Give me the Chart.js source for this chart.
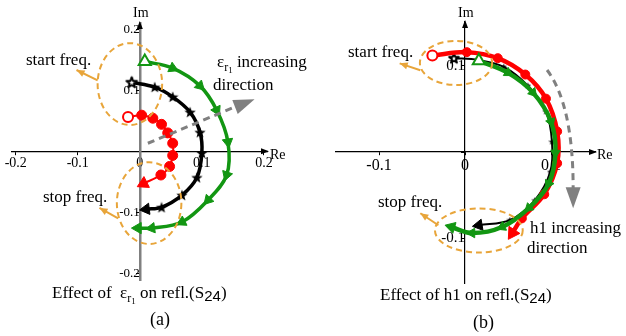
<!DOCTYPE html>
<html>
<head>
<meta charset="utf-8">
<script src="https://cdn.jsdelivr.net/npm/chart.js@4.4.1/dist/chart.umd.min.js"></script>
<style>
  body { margin: 0; background: #fff; }
  #wrap { position: relative; width: 626px; height: 336px; overflow: hidden; font-family: "Liberation Serif", serif; color: #000; }
  canvas { position: absolute; top: 0; }
  .t { position: absolute; white-space: nowrap; line-height: 1; font-size: 17px; }
  .ax { font-size: 14px; }
  .r { font-size: 12px; position: relative; top: 4px; }
  .one { font-size: 9px; position: relative; top: 2px; }
  .n { font-family: "Liberation Sans", sans-serif; font-size: 15px; position: relative; top: 3px; }
</style>
</head>
<body>
<div id="wrap">
  <canvas id="ca" width="313" height="336" style="left:0"></canvas>
  <canvas id="cb" width="313" height="336" style="left:313px"></canvas>

  <div class="t ax" style="left:133px;top:6px">Im</div>
  <div class="t ax" style="left:270px;top:148px">Re</div>
  <div class="t" style="left:26px;top:51px">start freq.</div>
  <div class="t" style="left:217px;top:53px">ε<span class="r">r<span class="one">1</span></span> increasing</div>
  <div class="t" style="left:213px;top:76px">direction</div>
  <div class="t" style="left:43px;top:188px">stop freq.</div>
  <div class="t" style="left:52px;top:284px">Effect of&nbsp; ε<span class="r">r<span class="one">1</span></span> on refl.(S<span class="n">24</span>)</div>
  <div class="t" style="left:150px;top:310px;font-size:18px">(a)</div>

  <div class="t ax" style="left:458px;top:6px">Im</div>
  <div class="t ax" style="left:597px;top:148px">Re</div>
  <div class="t" style="left:348px;top:43px">start freq.</div>
  <div class="t" style="left:378px;top:193px">stop freq.</div>
  <div class="t" style="left:530px;top:219px">h1 increasing</div>
  <div class="t" style="left:527px;top:239px">direction</div>
  <div class="t" style="left:380px;top:286px">Effect of h1 on refl.(S<span class="n">24</span>)</div>
  <div class="t" style="left:473px;top:313px;font-size:18px">(b)</div>
</div>
<script>
// ---- panel (a): effect of eps_r1 ----
const aTicks = [-0.2, -0.1, 0, 0.1, 0.2];

const aRedRe   = [-0.019, 0.003, 0.021, 0.035, 0.045, 0.053, 0.053, 0.048, 0.034, 0.006];
const aRedIm   = [ 0.056, 0.059, 0.054, 0.044, 0.030, 0.013, -0.007, -0.025, -0.039, -0.053];

const aBlackRe = [-0.013, 0.024, 0.053, 0.081, 0.097, 0.100, 0.092, 0.068, 0.035, 0.010];
const aBlackIm = [ 0.113, 0.105, 0.089, 0.064, 0.031, -0.003, -0.043, -0.072, -0.092, -0.095];

const aGreenRe = [ 0.008, 0.053, 0.097, 0.124, 0.142, 0.140, 0.110, 0.068, 0.019, -0.003];
const aGreenIm = [ 0.147, 0.136, 0.107, 0.067, 0.015, -0.039, -0.080, -0.116, -0.126, -0.126];

// ---- panel (b): effect of h1 ----
const bTicks = [-0.1, 0, 0.1];

const bRedRe   = [-0.038, 0.002, 0.038, 0.070, 0.094, 0.107, 0.107, 0.092, 0.066, 0.055];
const bRedIm   = [ 0.112, 0.116, 0.109, 0.090, 0.062, 0.024, -0.013, -0.049, -0.077, -0.094];

const bBlackRe = [-0.013, 0.015, 0.045, 0.073, 0.094, 0.101, 0.099, 0.081, 0.052, 0.016];
const bBlackIm = [ 0.109, 0.107, 0.099, 0.077, 0.047, 0.012, -0.023, -0.056, -0.079, -0.085];

const bGreenRe = [ 0.016, 0.050, 0.079, 0.100, 0.105, 0.097, 0.074, 0.043, 0.008, -0.016];
const bGreenIm = [ 0.106, 0.092, 0.069, 0.035, -0.001, -0.037, -0.065, -0.087, -0.094, -0.087];

const RED = '#ff0000', GREEN = '#129612', BLACK = '#000000';
const ORANGE = '#e8a53a', GRAY = '#808080';

// five pointed star used as point marker
function starImg(size, fill, stroke, lw) {
  const c = document.createElement('canvas');
  c.width = c.height = size;
  const g = c.getContext('2d');
  const r = size / 2 - lw, ri = r * 0.42, cx = size / 2, cy = size / 2 + r * 0.08;
  g.beginPath();
  for (let i = 0; i < 10; i++) {
    const a = -Math.PI / 2 + i * Math.PI / 5, rr = i % 2 ? ri : r;
    g.lineTo(cx + rr * Math.cos(a), cy + rr * Math.sin(a));
  }
  g.closePath();
  g.fillStyle = fill;
  g.fill();
  if (stroke) { g.lineWidth = lw; g.strokeStyle = stroke; g.lineJoin = 'round'; g.stroke(); }
  return c;
}

// triangles point along the curve
function rot(ctx) {
  const i = ctx.dataIndex;
  if (i === undefined || i === 0 || ctx.dataset.pointStyle[i] !== 'triangle') return 0;
  const d = ctx.dataset.data;
  const a = d[i - 1], b = d[Math.min(i + 1, d.length - 1)];
  return Math.atan2(b.x - a.x, b.y - a.y) * 180 / Math.PI;
}

function series(re, im, color, first, mid, radii, lw, order) {
  const n = re.length;
  const pick = (a, b, c) => re.map((_, i) => i === 0 ? a : (i === n - 1 ? c : b));
  return {
    data: re.map((x, i) => ({ x: x, y: im[i] })),
    showLine: true,
    borderColor: color,
    borderWidth: lw,
    tension: 0.35,
    pointStyle: pick(first, mid, 'triangle'),
    pointRadius: pick(radii[0], radii[1], radii[2]),
    pointBackgroundColor: pick('#ffffff', color, color),
    pointBorderColor: color,
    pointBorderWidth: pick(2, 1, 1),
    pointRotation: rot,
    clip: false,
    order: order
  };
}

function head(ctx, x0, y0, x1, y1, len, w, color) {
  const a = Math.atan2(y1 - y0, x1 - x0), c = Math.cos(a), s = Math.sin(a);
  ctx.beginPath();
  ctx.moveTo(x1, y1);
  ctx.lineTo(x1 - len * c - w / 2 * s, y1 - len * s + w / 2 * c);
  ctx.lineTo(x1 - len * c + w / 2 * s, y1 - len * s - w / 2 * c);
  ctx.closePath();
  ctx.fillStyle = color;
  ctx.fill();
}

// annotation shapes, given in data units
function annot(spec) {
  return {
    id: 'annot',
    afterDatasetsDraw(chart) {
      const ctx = chart.ctx, sx = chart.scales.x, sy = chart.scales.y;
      const X = v => sx.getPixelForValue(v), Y = v => sy.getPixelForValue(v);
      ctx.save();
      // axis arrows
      const ca = chart.chartArea;
      head(ctx, ca.right - 10, Y(0), ca.right + 2, Y(0), 8, 6, '#000');
      head(ctx, X(0), ca.top + 10, X(0), ca.top - 2, 8, 6, '#000');
      // dashed ellipses
      ctx.setLineDash([6, 4]);
      ctx.lineWidth = 2;
      ctx.strokeStyle = ORANGE;
      spec.ellipses.forEach(e => {
        ctx.beginPath();
        ctx.ellipse(X(e[0]), Y(e[1]), Math.abs(X(e[0] + e[2]) - X(e[0])), Math.abs(Y(e[1] + e[3]) - Y(e[1])), 0, 0, Math.PI * 2);
        ctx.stroke();
      });
      ctx.setLineDash([]);
      // small orange arrows
      spec.arrows.forEach(a => {
        ctx.beginPath();
        ctx.moveTo(X(a[0]), Y(a[1]));
        ctx.lineTo(X(a[2]), Y(a[3]));
        ctx.stroke();
        head(ctx, X(a[0]), Y(a[1]), X(a[2]), Y(a[3]), 8, 7, ORANGE);
      });
      // gray dashed direction arrow
      const g = spec.gray;
      ctx.strokeStyle = GRAY;
      ctx.lineWidth = 3;
      ctx.setLineDash([7, 5]);
      ctx.beginPath();
      ctx.moveTo(X(g[0][0]), Y(g[0][1]));
      if (g.length === 3) {
        ctx.lineTo(X(g[1][0]), Y(g[1][1]));
      } else {
        ctx.quadraticCurveTo(X(g[1][0]), Y(g[1][1]), X(g[2][0]), Y(g[2][1]));
      }
      ctx.stroke();
      ctx.setLineDash([]);
      const n = g.length;
      head(ctx, X(g[n - 2][0]), Y(g[n - 2][1]), X(g[n - 1][0]), Y(g[n - 1][1]), 21, 15, GRAY);
      ctx.restore();
    }
  };
}

function fmt(v) { return v === 0 ? '0' : v.toFixed(1); }

function makeChart(id, sets, range, ticks, pad, axis, spec) {
  return new Chart(document.getElementById(id), {
    type: 'scatter',
    data: { datasets: sets },
    options: {
      responsive: false,
      animation: false,
      devicePixelRatio: 1,
      layout: { padding: pad },
      plugins: { legend: { display: false }, tooltip: { enabled: false } },
      scales: {
        x: {
          type: 'linear', min: range[0], max: range[1], position: { y: 0 },
          border: { color: '#000', width: 1.2 },
          grid: { drawOnChartArea: false, color: '#000', tickLength: 3 },
          afterBuildTicks: s => { s.ticks = ticks.map(v => ({ value: v })); },
          ticks: { color: '#000', padding: 1, maxRotation: 0, autoSkip: false,
                   font: { family: 'Liberation Serif', size: axis.xs }, callback: fmt }
        },
        y: {
          type: 'linear', min: range[2], max: range[3], position: { x: 0 },
          border: { color: axis.yc, width: axis.yw },
          grid: { drawOnChartArea: false, color: '#000', tickLength: 3 },
          afterBuildTicks: s => { s.ticks = ticks.map(v => ({ value: v })); },
          ticks: { color: '#000', padding: 2, autoSkip: false,
                   font: { family: 'Liberation Serif', size: axis.ys },
                   callback: v => v === 0 ? '' : fmt(v) }
        }
      }
    },
    plugins: [annot(spec)]
  });
}

// panel (a)
makeChart('ca', [
  series(aGreenRe, aGreenIm, GREEN, 'triangle', 'triangle', [7, 6, 6.5], 3.5, 0),
  series(aBlackRe, aBlackIm, BLACK, starImg(15, '#fff', '#000', 2), starImg(12, '#000', null, 0), [6, 6, 6.5], 3.5, 1),
  series(aRedRe, aRedIm, RED, 'circle', 'circle', [5, 5, 7], 2, 2)
], [-0.206, 0.205, -0.211, 0.21], aTicks,
  { left: 12, right: 46, top: 23, bottom: 56 },
  { xs: 14, ys: 13, yc: GRAY, yw: 2.5 },
  {
    ellipses: [[-0.016, 0.110, 0.052, 0.067], [0.015, -0.085, 0.052, 0.067]],
    arrows: [[-0.068, 0.116, -0.102, 0.133], [-0.035, -0.110, -0.065, -0.093]],
    gray: [[0.013, 0.013], [0.152, 0.072], [0.185, 0.085]]
  });

// panel (b)
makeChart('cb', [
  series(bGreenRe, bGreenIm, GREEN, 'triangle', 'triangle', [7, 5.5, 6.5], 4.5, 0),
  series(bRedRe, bRedIm, RED, 'circle', 'circle', [5, 4.5, 7.5], 4.5, 1),
  series(bBlackRe, bBlackIm, BLACK, starImg(14, '#fff', '#000', 2), starImg(7, '#000', null, 0), [6, 3, 6.5], 2, 2)
], [-0.150, 0.151, -0.152, 0.151], bTicks,
  { left: 23, right: 31, top: 22, bottom: 53 },
  { xs: 16, ys: 15, yc: '#000', yw: 1.2 },
  {
    ellipses: [[-0.0105, 0.1035, 0.042, 0.0256], [0.016, -0.091, 0.051, 0.0256]],
    arrows: [[-0.052, 0.095, -0.076, 0.103], [-0.031, -0.085, -0.052, -0.071]],
    gray: [[0.0953, 0.0953], [0.1256, 0.0547], [0.1256, -0.0419], [0.1256, -0.0651]]
  });
</script>
</body>
</html>
